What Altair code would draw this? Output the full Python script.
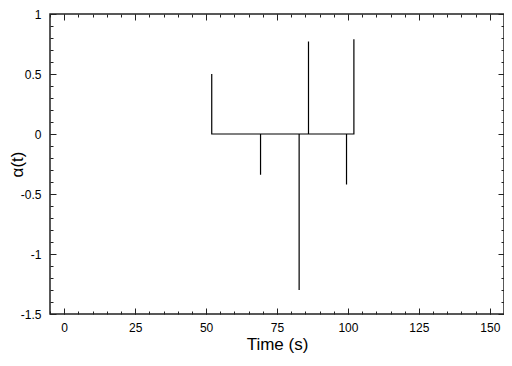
import altair as alt
import pandas as pd

# spike series: time (s) and alpha(t)
t_vals = [52, 52, 69.2, 69.2, 69.2, 82.8, 82.8, 82.8, 86.1, 86.1, 86.1, 99.5, 99.5, 99.5, 102.1, 102.1]
a_vals = [0.50, 0, 0, -0.34, 0, 0, -1.30, 0, 0, 0.77, 0, 0, -0.42, 0, 0, 0.79]

x_major = [0, 25, 50, 75, 100, 125, 150]
x_minor = list(range(-5, 156, 5))
y_major = [-1.5, -1, -0.5, 0, 0.5, 1]
y_minor = [round(-1.5 + 0.1 * i, 2) for i in range(26)]

df = pd.DataFrame({"t": t_vals, "a": a_vals, "i": list(range(len(t_vals)))})

W, H = 454, 300
FONT = "Liberation Sans"
xs = alt.Scale(domain=[-5, 155], nice=False, zero=False)
ys = alt.Scale(domain=[-1.5, 1], nice=False, zero=False)

def tick_axis(orient, values, size, offset):
    return alt.Axis(orient=orient, values=values, tickSize=size, offset=offset,
                    labels=False, domain=False, grid=False, title=None,
                    tickColor="#222", tickWidth=1)

base = alt.Chart(df)

main = base.mark_line(color="black", strokeWidth=1.2).encode(
    x=alt.X("t:Q", scale=xs, axis=alt.Axis(orient="bottom", values=x_major, ticks=False,
            domain=False, grid=False, title="Time (s)", labelPadding=8,
            labelFontSize=12, labelFont=FONT, labelColor="black",
            titleFont=FONT, titleFontSize=17, titleFontWeight="normal",
            titleColor="black", titlePadding=3, labelExpr="datum.value + ''")),
    y=alt.Y("a:Q", scale=ys, axis=alt.Axis(orient="left", values=y_major, ticks=False,
            domain=False, grid=False, title="α(t)", labelPadding=9,
            labelFontSize=12, labelFont=FONT, labelColor="black",
            titleFont=FONT, titleFontSize=17, titleFontWeight="normal",
            titleColor="black", titleX=-24, titleY=H / 2, labelExpr="datum.value + ''")),
    order="i:Q",
)

def ticks_layer(xv, yv, size):
    l1 = base.mark_point(opacity=0).encode(
        x=alt.X("t:Q", scale=xs, axis=tick_axis("top", xv, size, -H)),
        y=alt.Y("a:Q", scale=ys, axis=tick_axis("right", yv, size, -W)),
    )
    l2 = base.mark_point(opacity=0).encode(
        x=alt.X("t:Q", scale=xs, axis=tick_axis("bottom", xv, size, -H)),
        y=alt.Y("a:Q", scale=ys, axis=tick_axis("left", yv, size, -W)),
    )
    return [l1, l2]

layers = [main] + ticks_layer(x_major, y_major, 6) + ticks_layer(x_minor, y_minor, 3)

chart = alt.layer(*layers).resolve_axis(x="independent", y="independent").properties(
    width=W, height=H,
    autosize=alt.AutoSizeParams(type="none"),
    padding={"left": 42, "top": 6, "right": 0, "bottom": 44},
    background="white",
).configure_view(stroke="#222", strokeWidth=1.5)

chart.save("out.html", embed_options={"renderer": "svg", "actions": False})
